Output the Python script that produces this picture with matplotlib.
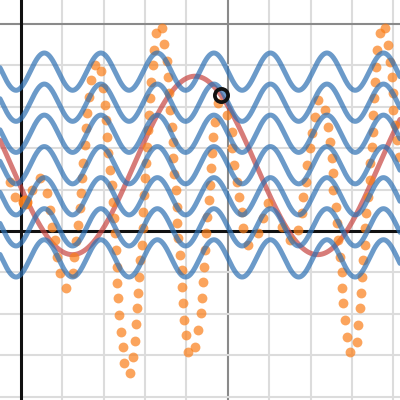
import numpy as np
import matplotlib
matplotlib.use("Agg")
import matplotlib.pyplot as plt

# ---- data (graph units) ----
X_RANGE = (-0.50, 9.16)
Y_RANGE = (-4.08, 5.58)

# family of blue sine curves: y = offset + amp*cos(2*pi*(x - peak)/period)
BLUE_OFFSETS = [3.85, 3.10, 2.35, 1.59, 0.84, 0.09, -0.66]
BLUE_AMP = 0.45
BLUE_PERIOD = 1.365
BLUE_PEAK = 0.57

# red curve
RED_CENTER = 1.585
RED_AMP = 2.155
RED_PERIOD = 5.92
RED_PEAK = 4.21

# black open point on the red curve
RING_X = [4.83]
RING_Y = [3.29]

# highlighted orange point
BIG_X = [0.10]
BIG_Y = [0.70]

# orange sampled points
ORANGE_X = [-0.26, -0.14, 0.27, 0.47, 0.64, 0.71, 0.76, 0.83, 0.88, 0.95, 1.09,
            1.26, 1.29, 1.34, 1.38, 1.43, 1.46, 1.48, 1.50, 1.55, 1.58, 1.60, 1.65, 1.70, 1.79,
            1.94, 1.99, 2.04, 2.06, 2.08, 2.11, 2.16, 2.21, 2.23, 2.25, 2.28, 2.30, 2.33, 2.33,
            2.35, 2.37, 2.42, 2.47, 2.50, 2.64,
            2.71, 2.76, 2.78, 2.81, 2.83, 2.86, 2.88, 2.93, 2.95, 2.95, 2.98, 3.00, 3.03, 3.05,
            3.07, 3.10, 3.12, 3.15, 3.20, 3.22, 3.27, 3.41,
            3.46, 3.53, 3.56, 3.58, 3.61, 3.65, 3.68, 3.68, 3.70, 3.75, 3.78, 3.78, 3.80, 3.85,
            3.90, 3.90, 3.92, 3.94, 3.99, 4.04,
            4.21, 4.28, 4.36, 4.38, 4.40, 4.43, 4.45, 4.48, 4.50, 4.55, 4.57, 4.60, 4.62, 4.64,
            4.69, 4.77,
            4.98, 5.10, 5.10, 5.15, 5.22, 5.27, 5.35, 5.37, 5.49,
            5.73, 5.85, 5.97, 6.31, 6.50,
            6.70, 6.79, 6.82, 6.89, 6.92, 6.99, 7.04, 7.11, 7.18,
            7.35, 7.42, 7.47, 7.52, 7.54, 7.54, 7.62, 7.64, 7.66, 7.71, 7.76, 7.76, 7.79, 7.83,
            7.88, 7.95,
            8.12, 8.15, 8.20, 8.22, 8.24, 8.27, 8.32, 8.32, 8.34, 8.39, 8.44, 8.44, 8.49, 8.51,
            8.51, 8.53, 8.56, 8.58, 8.61, 8.68, 8.80,
            8.87, 8.92, 8.97, 8.99, 8.99, 9.04, 9.09, 9.14]
ORANGE_Y = [1.18, 0.82, 0.99, 1.28, 0.92, 0.51, 0.10, -0.22, -0.63, -1.01, -1.38,
            -1.01, -0.63, -0.24, 0.14, 0.56, 0.92, 1.28, 1.64, 2.08, 2.49, 2.85, 3.24, 3.65, 4.01,
            3.86, 3.45, 3.04, 2.68, 2.27, 1.88, 1.47, 1.11, 0.70, 0.31, -0.05, -0.46, -0.87, -1.26,
            -1.62, -2.03, -2.44, -2.80, -3.19, -3.43,
            -3.04, -2.66, -2.25, -1.86, -1.50, -1.11, -0.70, -0.34, 0.07, 0.46, 0.87, 1.28, 1.64, 2.03,
            2.44, 2.80, 3.21, 3.60, 4.01, 4.37, 4.78, 4.90,
            4.52, 4.11, 3.72, 3.33, 2.92, 2.51, 2.15, 1.76, 1.38, 0.99, 0.58, 0.19, -0.17, -0.58,
            -0.94, -1.35, -1.74, -2.15, -2.51, -2.92,
            -2.80, -2.39, -1.98, -1.62, -1.23, -0.87, -0.46, -0.05, 0.34, 0.75, 1.11, 1.52, 1.88, 2.27,
            2.63, 3.09,
            2.80, 2.39, 2.00, 1.59, 1.18, 0.82, 0.46, 0.07, -0.34,
            -0.05, 0.31, 0.68, 0.10, -0.22,
            0.02, 0.43, 0.82, 1.18, 1.59, 2.00, 2.37, 2.75, 3.16,
            2.92, 2.51, 2.15, 1.76, 1.40, 0.99, 0.58, 0.19, -0.22, -0.63, -0.99, -1.38, -1.74, -2.15,
            -2.56, -2.92,
            -2.68, -2.27, -1.86, -1.50, -1.11, -0.70, -0.34, 0.07, 0.43, 0.82, 1.23, 1.64, 2.03, 2.39,
            2.80, 3.21, 3.60, 3.96, 4.37, 4.78, 4.90,
            4.49, 4.08, 3.72, 3.33, 2.92, 2.56, 2.20, 1.79]

BLUE = "#2d70b3"
RED = "#c74440"
ORANGE = "#fa7e19"

fig = plt.figure(figsize=(4, 4), dpi=100)
ax = fig.add_axes([0, 0, 1, 1])
ax.set_xlim(*X_RANGE)
ax.set_ylim(*Y_RANGE)
ax.axis("off")

# grid
for gx in range(int(np.floor(X_RANGE[0])), int(np.ceil(X_RANGE[1])) + 1):
    if gx == 0:
        continue
    major = gx % 5 == 0
    ax.axvline(gx, color="#8a8a8a" if major else "#dcdcdc", lw=1.5, zorder=0)
for gy in range(int(np.floor(Y_RANGE[0])), int(np.ceil(Y_RANGE[1])) + 1):
    if gy == 0:
        continue
    major = gy % 5 == 0
    ax.axhline(gy, color="#8a8a8a" if major else "#dcdcdc", lw=1.5, zorder=0)
ax.axvline(0, color="#111111", lw=2.2, zorder=1)
ax.axhline(0, color="#111111", lw=2.2, zorder=1)

xs = np.linspace(X_RANGE[0], X_RANGE[1], 2000)
red_y = RED_CENTER + RED_AMP * np.cos(2 * np.pi * (xs - RED_PEAK) / RED_PERIOD)
ax.plot(xs, red_y, color=RED, lw=3.6, alpha=0.7, solid_capstyle="round", zorder=2)

ax.scatter(ORANGE_X, ORANGE_Y, s=50, color=ORANGE, alpha=0.7, linewidths=0, zorder=3)
ax.scatter(BIG_X, BIG_Y, s=100, color=ORANGE, alpha=0.95, linewidths=0, zorder=3)

for off in BLUE_OFFSETS:
    by = off + BLUE_AMP * np.cos(2 * np.pi * (xs - BLUE_PEAK) / BLUE_PERIOD)
    ax.plot(xs, by, color=BLUE, lw=3.6, alpha=0.7, solid_capstyle="round", zorder=4)

ax.plot(RING_X, RING_Y, "o", ms=9.5, mfc="none", mec="#111111", mew=2.7, zorder=5)

fig.savefig("out.png", dpi=100)
